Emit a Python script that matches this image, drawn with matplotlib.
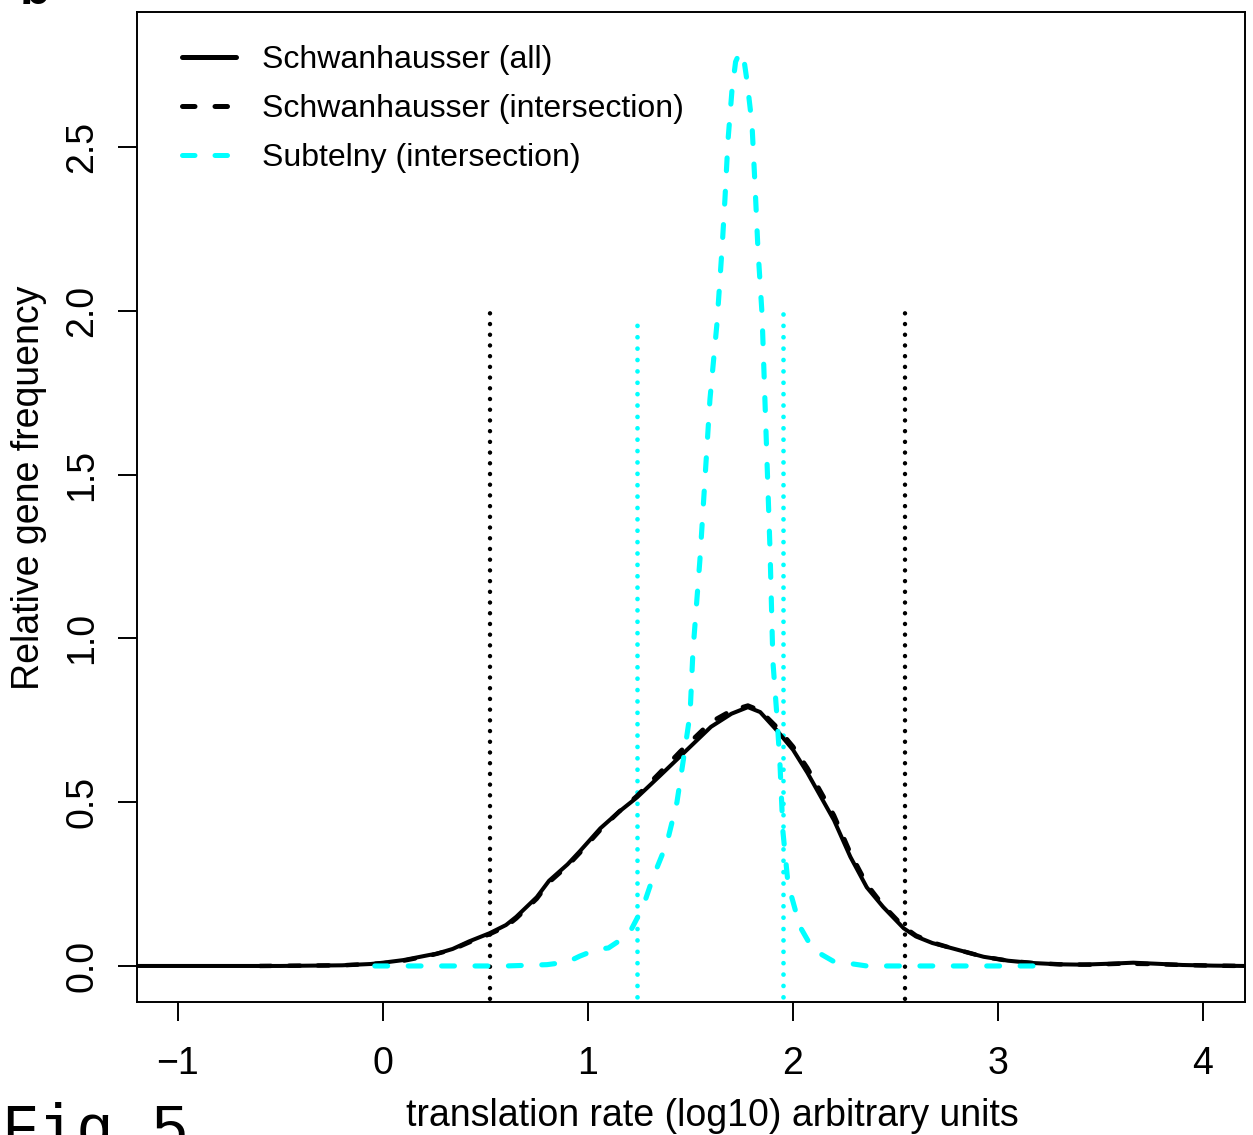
#!/usr/bin/env python3
"""Density of translation rates: Schwanhausser vs Subtelny (R-style base plot)."""

import matplotlib
matplotlib.use("Agg")
import matplotlib.pyplot as plt

plt.rcParams["font.family"] = ["Liberation Sans", "DejaVu Sans"]

# Schwanhausser (all) density
schw_all_x = [-1.2, -0.5, -0.2, -0.06, 0.0, 0.1, 0.23, 0.26, 0.34, 0.42, 0.52, 0.6, 0.65,
              0.75, 0.81, 0.9, 0.96, 1.06, 1.15, 1.24, 1.35, 1.45, 1.6, 1.7, 1.78, 1.84,
              1.92, 2.0, 2.07, 2.2, 2.28, 2.36, 2.44, 2.54, 2.6, 2.68, 2.77, 2.93, 3.05,
              3.17, 3.3, 3.41, 3.55, 3.66, 3.8, 3.9, 4.05, 4.2]
schw_all_y = [0.0, 0.0, 0.002, 0.006, 0.01, 0.018, 0.034, 0.037, 0.052, 0.075, 0.10, 0.125, 0.15,
              0.21, 0.26, 0.31, 0.35, 0.42, 0.47, 0.515, 0.58, 0.64, 0.73, 0.77, 0.79, 0.775,
              0.72, 0.66, 0.59, 0.445, 0.333, 0.24, 0.18, 0.115, 0.09, 0.07, 0.055, 0.028, 0.016,
              0.009, 0.005, 0.004, 0.007, 0.01, 0.006, 0.003, 0.001, 0.0]

# Schwanhausser (intersection) density
schw_int_x = [-0.6, -0.2, 0.0, 0.1, 0.23, 0.34, 0.42, 0.52, 0.6, 0.65, 0.75, 0.81, 0.9,
              0.96, 1.06, 1.15, 1.24, 1.35, 1.45, 1.6, 1.7, 1.78, 1.84, 1.92, 2.0, 2.07,
              2.2, 2.28, 2.36, 2.44, 2.54, 2.6, 2.68, 2.77, 2.93, 3.05, 3.17, 3.3, 3.45,
              3.6, 3.75, 3.9, 4.05, 4.2]
schw_int_y = [0.0, 0.002, 0.008, 0.016, 0.032, 0.05, 0.072, 0.097, 0.12, 0.145, 0.205, 0.255,
              0.305, 0.345, 0.415, 0.47, 0.52, 0.59, 0.655, 0.745, 0.78, 0.795, 0.78, 0.73,
              0.67, 0.605, 0.46, 0.345, 0.25, 0.185, 0.12, 0.093, 0.072, 0.055, 0.028, 0.016,
              0.009, 0.005, 0.004, 0.007, 0.006, 0.003, 0.001, 0.0]

# Subtelny (intersection) density
subt_x = [-0.04, 0.3, 0.6, 0.8, 0.9, 0.96, 1.04, 1.1, 1.16, 1.21, 1.268, 1.317, 1.385, 1.434,
          1.463, 1.498, 1.512, 1.546, 1.595, 1.629, 1.654, 1.668, 1.683, 1.702, 1.72, 1.741,
          1.76, 1.776, 1.8, 1.815, 1.829, 1.849, 1.863, 1.888, 1.902, 1.922, 1.937, 1.951,
          1.976, 2.034, 2.098, 2.195, 2.36, 2.7, 3.0, 3.19]
subt_y = [0.0, 0.0, 0.0, 0.004, 0.012, 0.03, 0.05, 0.055, 0.08, 0.11, 0.18, 0.27, 0.375, 0.50,
          0.62, 0.77, 0.96, 1.24, 1.73, 1.96, 2.19, 2.34, 2.52, 2.67, 2.76, 2.79, 2.77, 2.70,
          2.57, 2.38, 2.19, 1.99, 1.73, 1.27, 0.93, 0.76, 0.61, 0.41, 0.25, 0.12, 0.05, 0.015,
          0.0, 0.0, 0.0, 0.0]

# dotted range markers: (x position, top height)
schw_marks_x = [0.522, 2.546]
schw_marks_top = [2.0, 2.0]
subt_marks_x = [1.239, 1.951]
subt_marks_top = [1.965, 2.0]

x_ticks = [-1, 0, 1, 2, 3, 4]
y_ticks = [0.0, 0.5, 1.0, 1.5, 2.0, 2.5]
y_tick_labels = ["0.0", "0.5", "1.0", "1.5", "2.0", "2.5"]

CYAN = "#00ffff"
W, H = 1253, 1135

fig = plt.figure(figsize=(W / 100, H / 100), dpi=100)
ax = fig.add_axes([137 / W, 1 - 1002 / H, (1245 - 137) / W, (1002 - 12) / H])

dash = (2.5, 4.0)
dot = (0.01, 2.4)

ax.plot(schw_int_x, schw_int_y, color="black", lw=3.2, dashes=dash, dash_capstyle="round",
        label="Schwanhausser (intersection)", zorder=3)
ax.plot(schw_all_x, schw_all_y, color="black", lw=2.9, solid_capstyle="round",
        label="Schwanhausser (all)", zorder=4)
ax.plot(subt_x, subt_y, color=CYAN, lw=3.7, dashes=dash, dash_capstyle="round",
        label="Subtelny (intersection)", zorder=5)

for xv, top in zip(schw_marks_x, schw_marks_top):
    ax.plot([xv, xv], [-0.2, top], color="black", lw=3.2, dashes=dot,
            dash_capstyle="round", zorder=2)
for xv, top in zip(subt_marks_x, subt_marks_top):
    ax.plot([xv, xv], [-0.2, top], color=CYAN, lw=3.4, dashes=dot,
            dash_capstyle="round", zorder=2)

ax.set_xlim(-1.2, 4.205)
ax.set_ylim(-0.110, 2.912)

ax.set_xticks(x_ticks)
ax.set_xticklabels(["\u22121", "0", "1", "2", "3", "4"])
ax.set_yticks(y_ticks)
ax.set_yticklabels(y_tick_labels, rotation=90, va="center")
ax.tick_params(axis="both", direction="out", length=14, width=1.4, labelsize=27)
ax.tick_params(axis="x", pad=18)
ax.tick_params(axis="y", pad=12.5)
for s in ax.spines.values():
    s.set_linewidth(1.4)

ax.set_xlabel("translation rate (log10) arbitrary units", fontsize=27)
ax.xaxis.set_label_coords((712 - 137) / 1108, -0.097)
ax.set_ylabel("Relative gene frequency", fontsize=27)
ax.yaxis.set_label_coords(-0.081, (1002 - 488) / 990)

handles, labels = ax.get_legend_handles_labels()
order = [1, 0, 2]
leg = ax.legend([handles[i] for i in order], [labels[i] for i in order],
                loc="upper left", bbox_to_anchor=((182 - 137) / 1108, 1 - 33 / 990),
                frameon=False, fontsize=23, handlelength=1.7, handletextpad=0.8,
                labelspacing=0.59, borderpad=0, borderaxespad=0)
for line in leg.get_lines():
    line.set_linewidth(3.6)

fig.text(1 / W, -13 / H, "Fig.5", family="Liberation Mono", fontsize=45, va="baseline")
fig.text(20 / W, 1 - 4 / H, "b", fontsize=36, fontweight="bold", va="baseline")

fig.savefig("out.png", dpi=100)
